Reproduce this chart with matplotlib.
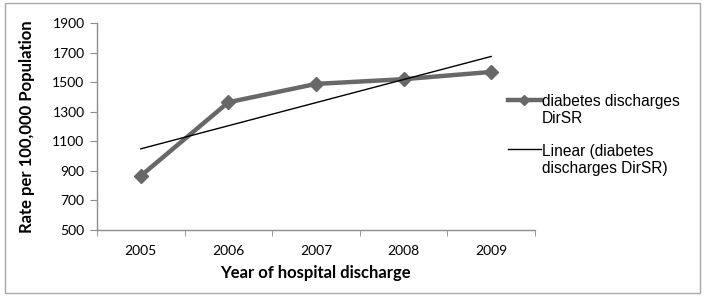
import numpy as np
import matplotlib.pyplot as plt
from matplotlib.patches import Rectangle
from matplotlib.legend_handler import HandlerLine2D

plt.rcParams['font.family'] = ['Liberation Sans', 'DejaVu Sans']

years = ['2005', '2006', '2007', '2008', '2009']
rates = [866, 1364, 1488, 1520, 1569]
y_ticks = [500, 700, 900, 1100, 1300, 1500, 1700, 1900]

x = np.arange(len(years))
slope, intercept = np.polyfit(x, rates, 1)
trend = intercept + slope * x


class FirstLineHandler(HandlerLine2D):
    # put the legend handle level with the first text line, like Excel does
    def create_artists(self, legend, orig_handle, xdescent, ydescent, width, height, fontsize, trans):
        dy = 0.72 * fontsize
        return super().create_artists(legend, orig_handle, xdescent, ydescent, width,
                                      height + 2 * dy, fontsize, trans)


fig = plt.figure(figsize=(7.06, 2.96), dpi=100)
ax = fig.add_axes([97 / 706, 1 - 230 / 296, 438 / 706, 207 / 296])

line_col = '#686868'
ln1, = ax.plot(x, rates, color=line_col, linewidth=3.2, marker='D', markersize=7,
               label='diabetes discharges\nDirSR', zorder=3)
ln2, = ax.plot(x, trend, color='black', linewidth=1.0,
               label='Linear (diabetes\ndischarges DirSR)', zorder=4)

tick_font = dict(family=['Lato', 'DejaVu Sans'], size=10)
ax.set_xlim(-0.5, len(years) - 0.5)
ax.set_ylim(500, 1900)
ax.set_yticks(y_ticks)
ax.set_yticklabels([str(v) for v in y_ticks], fontdict=tick_font)
ax.set_xticks(x)
ax.set_xticklabels(years, fontdict=tick_font)
ax.set_xticks(np.arange(-0.5, len(years), 1.0), minor=True)
ax.tick_params(axis='x', which='major', length=0, pad=11)
ax.tick_params(axis='x', which='minor', length=4.5, color='#8c8c8c', direction='out')
ax.tick_params(axis='y', length=5, color='#8c8c8c', direction='out', pad=4)

for s in ['top', 'right']:
    ax.spines[s].set_visible(False)
for s in ['left', 'bottom']:
    ax.spines[s].set_color('#8c8c8c')
    ax.spines[s].set_linewidth(1.0)

label_font = dict(family=['Lato', 'DejaVu Sans'], size=12, weight='bold')
ax.set_xlabel('Year of hospital discharge', fontdict=label_font)
ax.set_ylabel('Rate per 100,000 Population', fontdict=label_font)
ax.xaxis.set_label_coords(0.499, -0.208)
ax.xaxis.label.set_va('center')
ax.yaxis.set_label_coords(-0.159, 0.5)
ax.yaxis.label.set_va('center')

fig.legend(handles=[ln1, ln2], loc='upper left', bbox_to_anchor=(508 / 706, 1 - 94 / 296),
           frameon=False, fontsize=11.2, handlelength=2.1, handletextpad=0.1,
           labelspacing=1.1, borderaxespad=0, borderpad=0, markerscale=0.75,
           handler_map={ln1: FirstLineHandler(), ln2: FirstLineHandler()})

fig.patches.append(Rectangle((5 / 706, 3 / 296), 695 / 706, 290 / 296,
                             transform=fig.transFigure, fill=False,
                             edgecolor='#a8a8a8', linewidth=1.0))

fig.savefig('out.png', dpi=100)
